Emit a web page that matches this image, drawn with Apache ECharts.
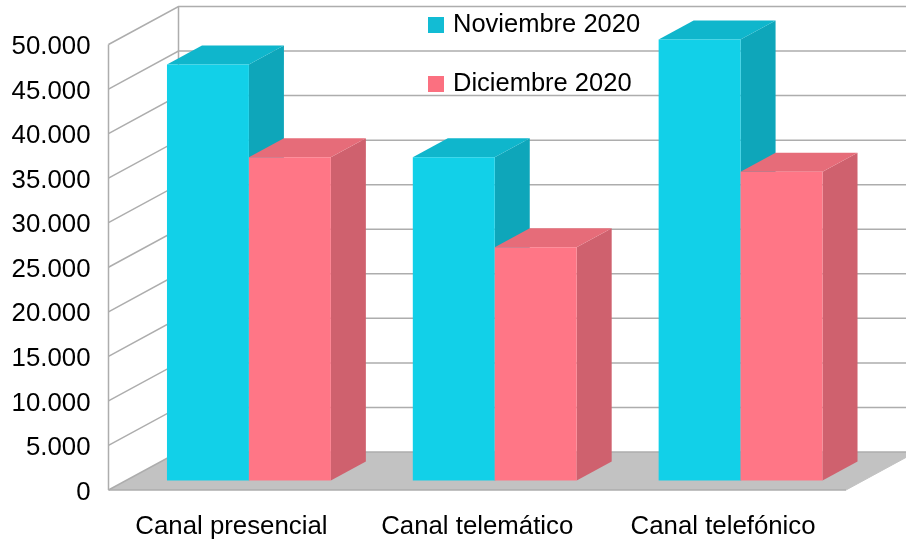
<!DOCTYPE html>
<html>
<head>
<meta charset="utf-8">
<style>html,body{margin:0;padding:0;background:#fff}#c{width:906px;height:545px}</style>
<script src="https://cdn.jsdelivr.net/npm/echarts@6/dist/echarts.min.js"></script>
</head>
<body>
<div id="c"></div>
<script>
const categories = ['Canal presencial', 'Canal telemático', 'Canal telefónico'];
const noviembre = [46700, 36300, 49500];
const diciembre = [36300, 26200, 34650];
const yTicks = [0, 5000, 10000, 15000, 20000, 25000, 30000, 35000, 40000, 45000, 50000];
const seriesNames = ['Noviembre 2020', 'Diciembre 2020'];

const FONT = '"Liberation Sans", Arial, sans-serif';
const WALL = [70, -38];       // depth of the chart box
const BAR_OFF = [17.5, -9.4]; // bar front plane offset
const BAR_DEPTH = [35, -19];  // bar depth
const LINE = {stroke: '#ADADAD', lineWidth: 1.5, fill: null};

const chart = echarts.init(document.getElementById('c'), null, {renderer: 'canvas'});

function renderFloor(params, api) {
  const g = params.coordSys;
  const y0 = api.coord([0, 0])[1];
  const x0 = g.x, x1 = g.x + g.width;
  return {type: 'group', children: [
    {type: 'polygon', shape: {points: [[x0, y0], [x0 + WALL[0], y0 + WALL[1]], [x1 + WALL[0], y0 + WALL[1]], [x1, y0]]},
      style: {fill: '#C2C2C2'}},
    {type: 'line', shape: {x1: x0, y1: y0, x2: x1, y2: y0}, style: LINE},
    {type: 'line', shape: {x1: x1, y1: y0, x2: x1 + WALL[0], y2: y0 + WALL[1]}, style: {stroke: '#C2C2C2', lineWidth: 1}},
    {type: 'line', shape: {x1: x0, y1: g.y, x2: x0, y2: y0}, style: LINE},
    {type: 'line', shape: {x1: x0 + WALL[0], y1: g.y + WALL[1], x2: x0 + WALL[0], y2: y0 + WALL[1]}, style: LINE}
  ]};
}

function renderGrid(params, api) {
  const g = params.coordSys;
  const v = api.value(0);
  const y = api.coord([0, v])[1];
  const x0 = g.x, x1 = g.x + g.width + WALL[0];
  return {type: 'polyline',
    shape: {points: [[x0, y], [x0 + WALL[0], y + WALL[1]], [x1, y + WALL[1]]]},
    style: LINE};
}

function renderBar(shift, front, top, side) {
  return function (params, api) {
    const cat = api.value(0), val = api.value(1);
    const band = api.size([1, 0])[0];
    const w = band / 3;
    const c = api.coord([cat, val]);
    const b = api.coord([cat, 0]);
    const xl = c[0] + shift * w + BAR_OFF[0];
    const xr = xl + w;
    const yt = c[1] + BAR_OFF[1];
    const yb = b[1] + BAR_OFF[1];
    const dx = BAR_DEPTH[0], dy = BAR_DEPTH[1];
    return {type: 'group', children: [
      {type: 'polygon', shape: {points: [[xr, yt], [xr + dx, yt + dy], [xr + dx, yb + dy], [xr, yb]]}, style: {fill: side}},
      {type: 'polygon', shape: {points: [[xl, yt], [xl + dx, yt + dy], [xr + dx, yt + dy], [xr, yt]]}, style: {fill: top}},
      {type: 'rect', shape: {x: xl, y: yt, width: w, height: yb - yt}, style: {fill: front}}
    ]};
  };
}

chart.setOption({
  animation: false,
  backgroundColor: '#ffffff',
  grid: {left: 108.5, right: 60, top: 44.5, bottom: 55, containLabel: false},
  legend: {
    orient: 'vertical', left: 423, top: 7, itemWidth: 16, itemHeight: 16, itemGap: 33,
    icon: 'rect', data: seriesNames,
    textStyle: {fontFamily: FONT, fontSize: 25.5, color: '#000', padding: [0, 0, 0, 4]},
    selectedMode: false
  },
  xAxis: {
    type: 'category', data: categories,
    axisLine: {show: false}, axisTick: {show: false}, splitLine: {show: false},
    axisLabel: {fontFamily: FONT, fontSize: 25.8, color: '#000', margin: 24, interval: 0}
  },
  yAxis: {
    type: 'value', min: 0, max: 50000, interval: 5000,
    axisLine: {show: false}, axisTick: {show: false}, splitLine: {show: false},
    axisLabel: {
      fontFamily: FONT, fontSize: 25.8, color: '#000', margin: 18,
      verticalAlign: 'top', lineHeight: 5,
      formatter: v => String(v).replace(/\B(?=(\d{3})+$)/g, '.')
    }
  },
  series: [
    {type: 'custom', silent: true, z: 1, clip: false, renderItem: renderFloor, data: [[0]], encode: {y: 0}},
    {type: 'custom', silent: true, z: 2, clip: false, renderItem: renderGrid, data: yTicks.map(v => [v]), encode: {y: 0}},
    {type: 'custom', name: seriesNames[0], z: 3, clip: false,
      renderItem: renderBar(-1, '#12D0E8', '#0FB6CC', '#0EA6BA'),
      itemStyle: {color: '#12BCD4'},
      data: noviembre.map((v, i) => [i, v]), encode: {x: 0, y: 1}},
    {type: 'custom', name: seriesNames[1], z: 4, clip: false,
      renderItem: renderBar(0, '#FF7686', '#E66C79', '#CF616E'),
      itemStyle: {color: '#FB7080'},
      data: diciembre.map((v, i) => [i, v]), encode: {x: 0, y: 1}}
  ]
});
</script>
</body>
</html>
